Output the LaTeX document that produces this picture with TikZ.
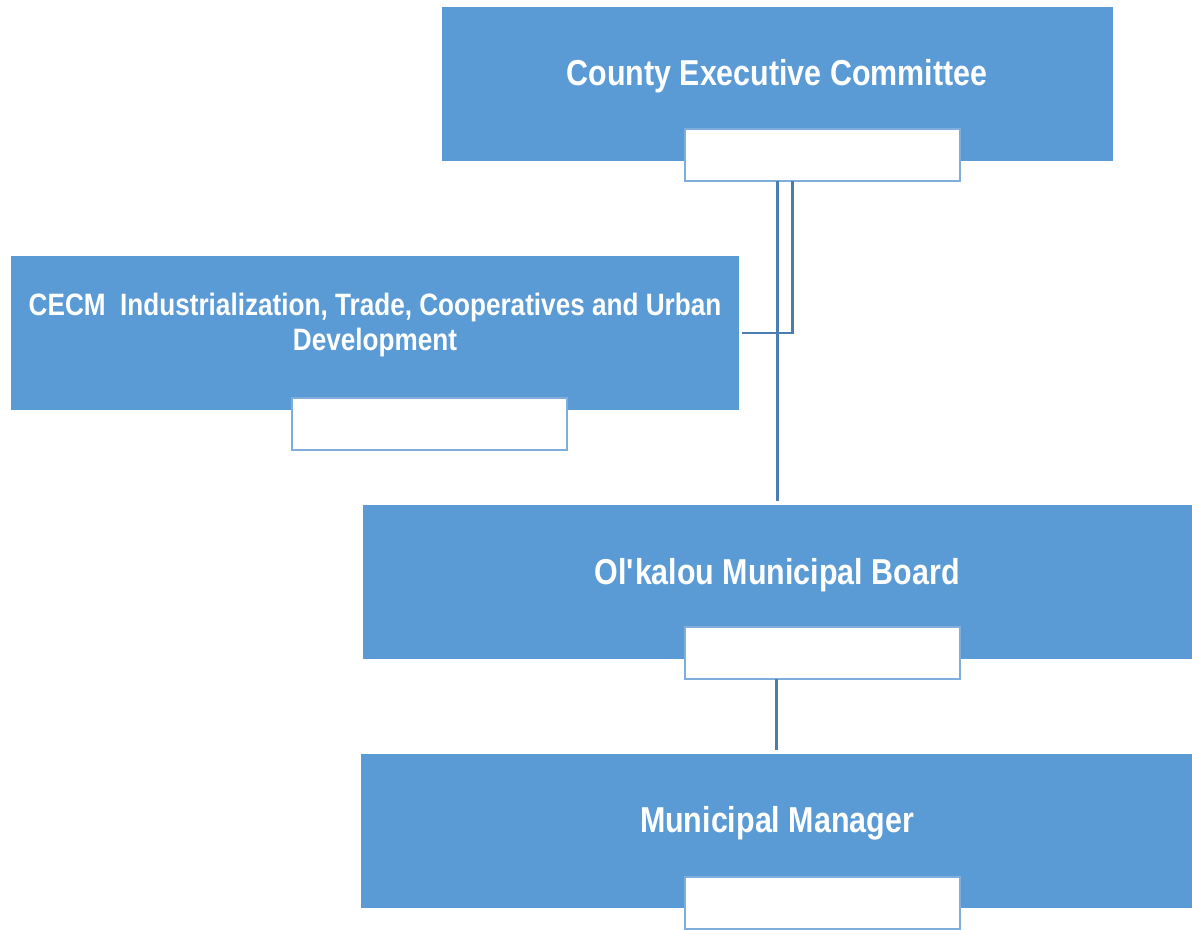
\documentclass[tikz,border=0pt]{standalone}
\usepackage{fontspec}
\setmainfont{Liberation Sans}[FakeStretch=0.845]
\usetikzlibrary{positioning}

\definecolor{unitblue}{HTML}{5B9BD5}
\definecolor{tabline}{HTML}{7FAEDC}
\definecolor{linkblue}{HTML}{4A7EB0}

\tikzset{
  unit/.style={fill=unitblue, inner sep=0pt, outer sep=0pt, minimum height=3.08cm},
  tab/.style={fill=white, draw=tabline, line width=1.1pt, inner sep=0pt, outer sep=0pt,
    minimum width=5.5cm, minimum height=1.04cm},
  title/.style={text=white, font=\bfseries\fontsize{20.5}{23}\selectfont, align=center},
  link/.style={draw=linkblue, line width=1.2pt}
}

\begin{document}
\begin{tikzpicture}[x=0.02cm, y=-0.02cm]
	\useasboundingbox (0,0) rectangle (1192,929);

	% units
	\node[unit, minimum width=13.42cm] (cec) at (777.5,84) {};
	\node[unit, minimum width=14.56cm] (cecm) at (375,333) {};
	\node[unit, minimum width=16.58cm] (board) at (777.5,582) {};
	\node[unit, minimum width=16.62cm] (manager) at (776.5,831) {};

	% white tabs under each unit
	\node[tab] (cecTab) at (822.5,155) {};
	\node[tab] (cecmTab) at (429.5,424) {};
	\node[tab] (boardTab) at (822.5,653) {};
	\node[tab] (managerTab) at (822.5,903) {};

	% titles
	\node[title] (cecText) at (777,76) {County Executive Committee};
	\node[title, font=\bfseries\fontsize{17.6}{19.5}\selectfont] (cecmText) at (375,325)
		{CECM\ \ Industrialization, Trade, Cooperatives and Urban\\Development};
	\node[title] (boardText) at (777,575) {Ol\textquotesingle kalou Municipal Board};
	\node[title] (managerText) at (777,823) {Municipal Manager};

	% links
	\draw[link, shorten >=0.08cm] (cecTab.south -| board.north) -- (board.north);
	\draw[link, shorten >=0.06cm] ([xshift=0.3cm]cecTab.south -| board.north) |- (cecm.east);
	\draw[link, shorten >=0.08cm] (boardTab.south -| manager.north) -- (manager.north);
\end{tikzpicture}
\end{document}
